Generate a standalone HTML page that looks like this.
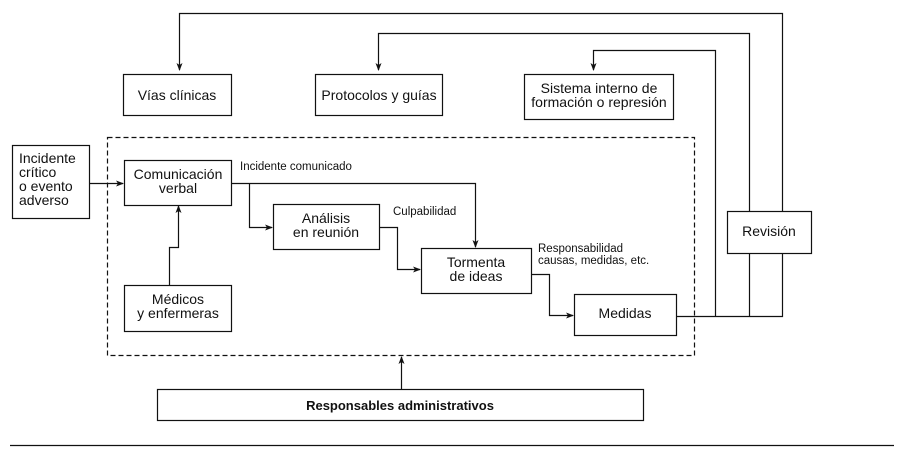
<!DOCTYPE html><html><head><meta charset="utf-8"><style>
body{margin:0;background:#fff}
svg text{font-family:"Liberation Sans Narrow","Liberation Sans",sans-serif;fill:#111}
</style></head><body>
<svg width="905" height="465" viewBox="0 0 905 465" xmlns="http://www.w3.org/2000/svg">
<defs><marker id="a" markerWidth="8" markerHeight="8" refX="7" refY="4" orient="auto" markerUnits="userSpaceOnUse"><path d="M0,1 L8,4 L0,7 L2,4z" fill="#111"/></marker></defs>
<g fill="none" stroke="#111" stroke-width="1.2">
<rect x="107.5" y="137.5" width="587" height="218" stroke-dasharray="5,3"/>
<rect x="123.5" y="74.5" width="108" height="41"/>
<rect x="315.5" y="74.5" width="127" height="41"/>
<rect x="524.5" y="74.5" width="149" height="45"/>
<rect x="727.5" y="211.5" width="84" height="42"/>
<rect x="12.5" y="145.5" width="77" height="73"/>
<rect x="124.5" y="160.5" width="107" height="45"/>
<rect x="273.5" y="204.5" width="106" height="45"/>
<rect x="421.5" y="248.5" width="110" height="45"/>
<rect x="574.5" y="294.5" width="102" height="41"/>
<rect x="124.5" y="285.5" width="107" height="46"/>
<rect x="157.5" y="389.5" width="486" height="31"/>
<path d="M10 445.5H894"/>
<path d="M782.5 211V13.5H179.5V70" marker-end="url(#a)"/>
<path d="M749.5 211V33.5H378.5V70" marker-end="url(#a)"/>
<path d="M715.5 316V50.5H593.5V70" marker-end="url(#a)"/>
<path d="M676 316.5H782.5V253M749.5 316V253"/>
<path d="M89 183.5H123" marker-end="url(#a)"/>
<path d="M231 183.5H475.5V247" marker-end="url(#a)"/>
<path d="M249.5 183V227.5H272" marker-end="url(#a)"/>
<path d="M379 227.5H397.5V269.5H420" marker-end="url(#a)"/>
<path d="M531 274.5H549.5V315.5H573" marker-end="url(#a)"/>
<path d="M169.5 285V247.5H178.5V206" marker-end="url(#a)"/>
<path d="M401.5 389V357" marker-end="url(#a)"/>
</g>
<g font-size="14" text-anchor="middle">
<text x="177" y="100">Vías clínicas</text>
<text x="379" y="100">Protocolos y guías</text>
<text x="599" y="93">Sistema interno de</text>
<text x="599" y="107">formación o represión</text>
<text x="769" y="236">Revisión</text>
<text x="178" y="179">Comunicación</text>
<text x="178" y="193">verbal</text>
<text x="326" y="223">Análisis</text>
<text x="326" y="237">en reunión</text>
<text x="476" y="267">Tormenta</text>
<text x="476" y="281">de ideas</text>
<text x="625" y="318">Medidas</text>
<text x="178" y="304">Médicos</text>
<text x="178" y="318">y enfermeras</text>
<text x="400" y="410" font-weight="bold" font-size="13">Responsables administrativos</text>
</g>
<g font-size="14">
<text x="19" y="163">Incidente</text>
<text x="19" y="177">crítico</text>
<text x="19" y="191">o evento</text>
<text x="19" y="205">adverso</text>
</g>
<g font-size="11.5">
<text x="240" y="170">Incidente comunicado</text>
<text x="393" y="215">Culpabilidad</text>
<text x="538" y="252">Responsabilidad</text>
<text x="538" y="264">causas, medidas, etc.</text>
</g>
</svg>
</body></html>
